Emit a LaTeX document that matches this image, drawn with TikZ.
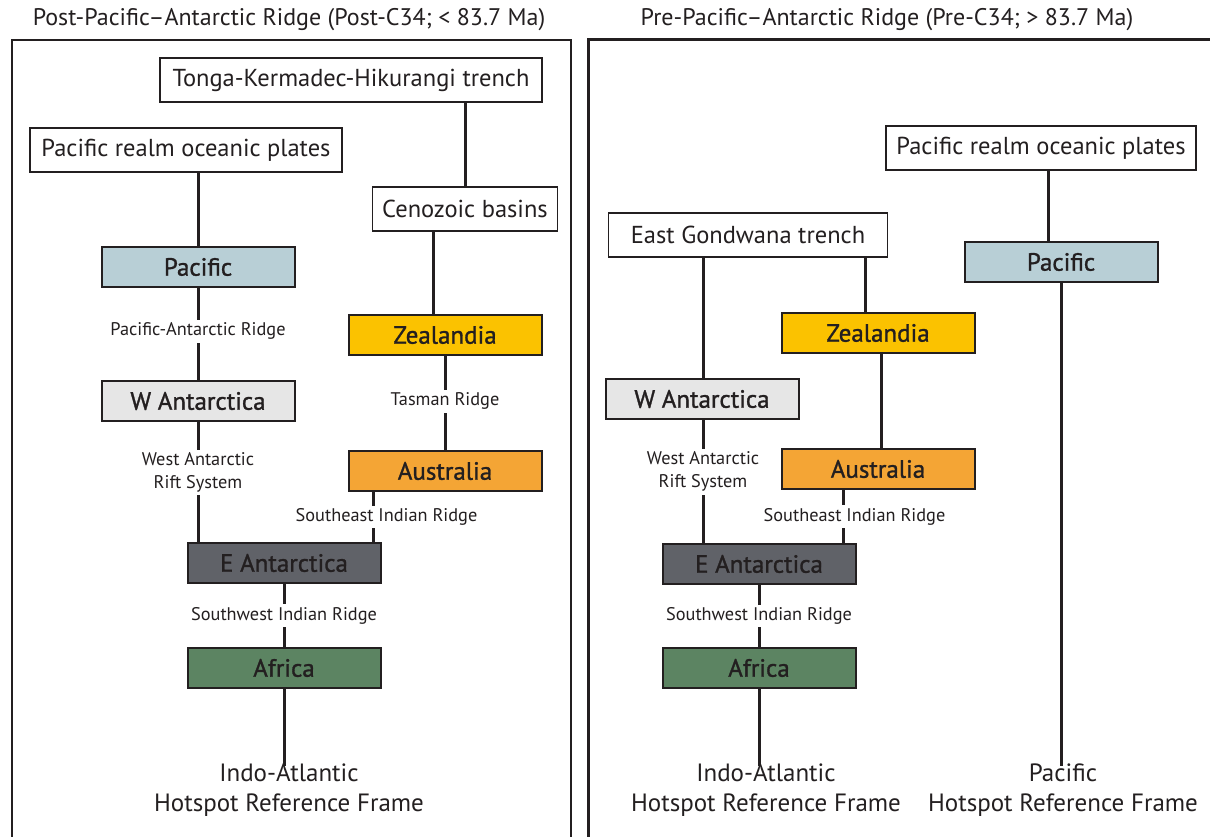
\documentclass[tikz,border=0pt]{standalone}
\usepackage{fontspec}
\setmainfont{PT Sans}
\newfontfamily\platefont[FakeBold=1.2]{PT Sans}
\usetikzlibrary{positioning}

\definecolor{linec}{HTML}{231F20}
\definecolor{pacblue}{HTML}{B8CFD6}
\definecolor{zeayel}{HTML}{FBC200}
\definecolor{ausorg}{HTML}{F4A535}
\definecolor{wantgrey}{HTML}{E6E6E6}
\definecolor{eantgrey}{HTML}{606268}
\definecolor{afrgreen}{HTML}{5C8462}

\tikzset{
  plate/.style={draw=linec,line width=2pt,minimum width=193,minimum height=40,
    inner sep=0pt,text=linec,font=\platefont\fontsize{25}{28}\selectfont},
  tbox/.style={draw=linec,line width=1.6pt,fill=white,minimum height=44,
    inner sep=0pt,text=linec,font=\fontsize{24.5}{28}\selectfont},
  link/.style={draw=linec,line width=3pt},
  ridge/.style={fill=white,inner sep=3pt,align=center,text=linec,
    font=\fontsize{18.3}{23}\selectfont},
  frame/.style={text=linec,align=center,font=\fontsize{25}{30}\selectfont},
  heading/.style={text=linec,font=\fontsize{24}{28}\selectfont}
}

\begin{document}
\begin{tikzpicture}[x=1pt,y=-1pt]
  \useasboundingbox (0,0) rectangle (1210,837);

  % panel frames
  \draw[linec,line width=2pt] (12,837) -- (12,40) -- (571,40) -- (571,837);
  \draw[linec,line width=3pt] (588,837) -- (588,40) -- (1210,40);
  \node[heading] (ttlL) at (289,20) {Post-Pacific–Antarctic Ridge (Post-C34; < 83.7 Ma)};
  \node[heading] (ttlR) at (887,20) {Pre-Pacific–Antarctic Ridge (Pre-C34; > 83.7 Ma)};

  % left panel: after the ridge
  \node[tbox,minimum width=382] (tkh) at (351,80) {Tonga-Kermadec-Hikurangi trench};
  \node[tbox,minimum width=312] (prL) at (186,150) {Pacific realm oceanic plates};
  \node[tbox,minimum width=185] (cen) at (465,209) {Cenozoic basins};
  \node[plate,fill=pacblue] (pacL) at (198,267) {Pacific};
  \node[plate,fill=zeayel] (zeaL) at (445,335) {Zealandia};
  \node[plate,fill=wantgrey] (wanL) at (198,401) {W Antarctica};
  \node[plate,fill=ausorg] (ausL) at (445,471) {Australia};
  \node[plate,fill=eantgrey] (eanL) at (284,563) {E Antarctica};
  \node[plate,fill=afrgreen] (afrL) at (284,668) {Africa};
  \node[frame] (hsL) at (289,790) {Indo-Atlantic\\Hotspot Reference Frame};

  \draw[link] (cen.north) -- (cen.north |- tkh.south);
  \draw[link] (pacL.north) -- (pacL.north |- prL.south);
  \draw[link] ([xshift=-12]zeaL.north) -- ([xshift=-12]zeaL.north |- cen.south);
  \draw[link] (pacL) -- (wanL) node[ridge,pos=.47] {Pacific-Antarctic Ridge};
  \draw[link] (zeaL) -- (ausL) node[ridge,pos=.48] {Tasman Ridge};
  \draw[link] (wanL.south) -- (wanL.south |- eanL.north)
    node[ridge,pos=.42] {West Antarctic\\Rift System};
  \draw[link] ([xshift=26]ausL.south west) -- ([xshift=26]ausL.south west |- eanL.north)
    node[ridge,pos=.5,xshift=13] {Southeast Indian Ridge};
  \draw[link] (eanL) -- (afrL) node[ridge,pos=.5] {Southwest Indian Ridge};
  \draw[link] (afrL.south) -- ([yshift=-6]hsL.north -| afrL.south);

  % right panel: before the ridge
  \node[tbox,minimum width=310] (prR) at (1041,148) {Pacific realm oceanic plates};
  \node[tbox,minimum width=279] (egt) at (748,235) {East Gondwana trench};
  \node[plate,fill=pacblue] (pacR) at (1061,262) {Pacific};
  \node[plate,fill=zeayel] (zeaR) at (878,333) {Zealandia};
  \node[plate,fill=wantgrey] (wanR) at (702,399) {W Antarctica};
  \node[plate,fill=ausorg] (ausR) at (878,469) {Australia};
  \node[plate,fill=eantgrey] (eanR) at (759,564) {E Antarctica};
  \node[plate,fill=afrgreen] (afrR) at (759,668) {Africa};
  \node[frame] (hsR) at (766,790) {Indo-Atlantic\\Hotspot Reference Frame};
  \node[frame] (hsP) at (1063,790) {Pacific\\Hotspot Reference Frame};

  \draw[link] ([xshift=-13]pacR.north) -- ([xshift=-13]pacR.north |- prR.south);
  \draw[link] (pacR.south) -- ([yshift=-6]hsP.north -| pacR.south);
  \draw[link] ([xshift=1]wanR.north) -- ([xshift=1]wanR.north |- egt.south);
  \draw[link] ([xshift=-13]zeaR.north) -- ([xshift=-13]zeaR.north |- egt.south);
  \draw[link] ([xshift=3]zeaR.south) -- ([xshift=3]ausR.north);
  \draw[link] ([xshift=1]wanR.south) -- ([xshift=1]wanR.south |- eanR.north)
    node[ridge,pos=.42] {West Antarctic\\Rift System};
  \draw[link] ([xshift=63]ausR.south west) -- ([xshift=63]ausR.south west |- eanR.north)
    node[ridge,pos=.5,xshift=11] {Southeast Indian Ridge};
  \draw[link] (eanR) -- (afrR) node[ridge,pos=.5] {Southwest Indian Ridge};
  \draw[link] (afrR.south) -- ([yshift=-6]hsR.north -| afrR.south);
\end{tikzpicture}
\end{document}
